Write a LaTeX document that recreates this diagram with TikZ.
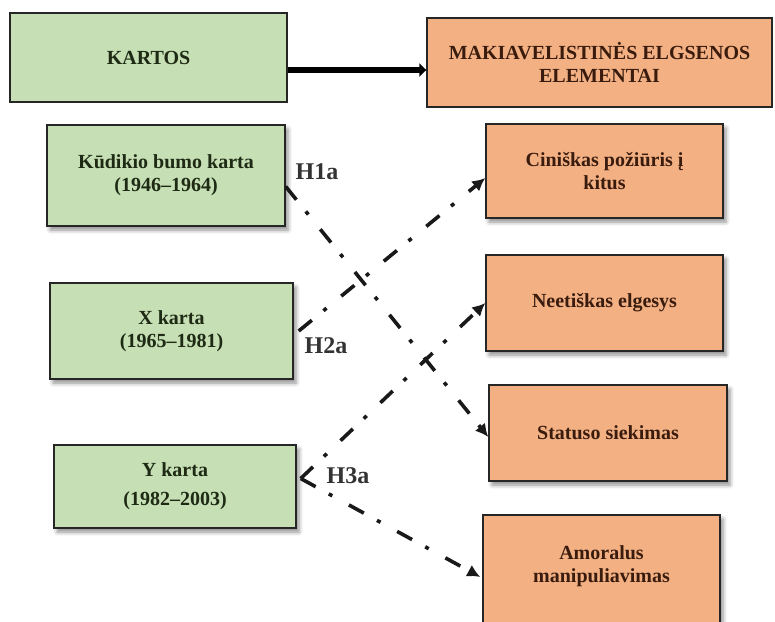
\documentclass[tikz,border=0pt]{standalone}
\usepackage{fontspec}
\setmainfont{Liberation Serif}
\usetikzlibrary{arrows.meta,shadows.blur}

\definecolor{genfill}{HTML}{C6DFB5}
\definecolor{genink}{HTML}{1E2A14}
\definecolor{machfill}{HTML}{F3B083}
\definecolor{machink}{HTML}{3A1C0E}
\definecolor{edgeink}{HTML}{262626}

\tikzset{
  boxbase/.style={draw=edgeink, line width=1.4pt, align=center, inner sep=2pt,
    font=\bfseries\fontsize{20}{23}\selectfont},
  genbox/.style={boxbase, fill=genfill, text=genink},
  machbox/.style={boxbase, fill=machfill, text=machink},
  shade/.style={blur shadow={shadow xshift=3pt, shadow yshift=-4pt,
    shadow blur radius=4pt, shadow opacity=45}},
  hyplink/.style={line width=3.6pt, black!90,
    dash pattern=on 17pt off 15pt on 4pt off 19pt,
    -{Latex[length=13pt,width=13pt]}},
  hyplabel/.style={font=\bfseries\fontsize{24}{26}\selectfont, text=black!80, inner sep=0pt},
}

\begin{document}
\begin{tikzpicture}[x=1pt, y=-1pt]
\useasboundingbox (0,0) rectangle (775,621);

% header row
\node[genbox, minimum width=277pt, minimum height=89pt] (kartos) at (148.5,57.5) {KARTOS};
\node[machbox, minimum width=345pt, minimum height=89pt] (elem) at (599.5,62.5)
  {MAKIAVELISTINĖS ELGSENOS\\ELEMENTAI};
\draw[line width=5.5pt, -{Triangle[length=7pt,width=13pt]}]
  ([yshift=-12.5pt]kartos.east) -- ([yshift=-12.5pt]kartos.east -| elem.west);

% generations
\node[genbox, shade, minimum width=238pt, minimum height=101pt] (kud) at (166,175.5)
  {Kūdikio bumo karta\\(1946–1964)};
\node[genbox, shade, minimum width=243pt, minimum height=96pt] (xk) at (171.5,331)
  {X karta\\(1965–1981)};
\node[genbox, shade, minimum width=242pt, minimum height=83pt] (yk) at (175,486.5)
  {Y karta\\[6pt](1982–2003)};

% Machiavellian elements
\node[machbox, shade, minimum width=237pt, minimum height=94pt] (cin) at (604.5,171)
  {Ciniškas požiūris į\\kitus};
\node[machbox, shade, minimum width=237pt, minimum height=96pt] (neet) at (604.5,303)
  {Neetiškas elgesys};
\node[machbox, shade, minimum width=238pt, minimum height=96pt] (stat) at (608,433)
  {Statuso siekimas};
\node[machbox, shade, minimum width=237pt, minimum height=124pt] (amor) at (601.5,577) {};
\node[text=machink, align=center, font=\bfseries\fontsize{20}{23}\selectfont] (amortxt)
  at (601.5,566) {Amoralus\\manipuliavimas};

% hypotheses
\coordinate (h3) at ([xshift=4pt,yshift=8pt]yk.east);
\draw[hyplink] ([yshift=-11pt]kud.east) -- ([yshift=-4pt]stat.west);
\draw[hyplink] ([xshift=5pt]xk.east) -- ([yshift=-7pt]cin.west);
\draw[hyplink] (h3) -- (neet.west);
\draw[hyplink] (h3) -- ([xshift=-2pt]amor.west);

\node[hyplabel] (l1) at (317,172) {H1a};
\node[hyplabel] (l2) at (326,346) {H2a};
\node[hyplabel] (l3) at (348,476) {H3a};
\end{tikzpicture}
\end{document}
